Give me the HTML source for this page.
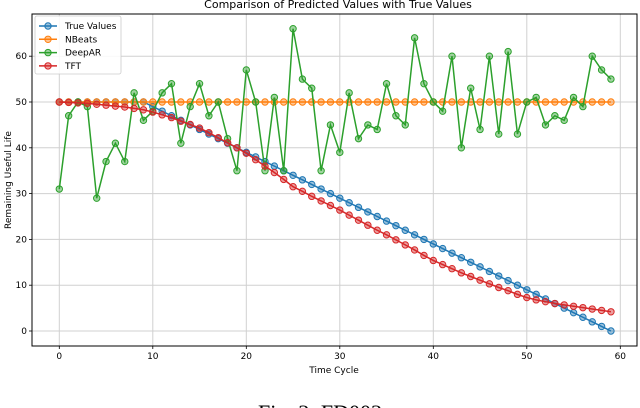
<!DOCTYPE html>
<html><head><meta charset="utf-8"><style>
html,body{margin:0;padding:0;background:#fff;width:640px;height:408px;overflow:hidden}
svg{display:block;font-family:"DejaVu Sans","Liberation Sans",sans-serif}
</style></head><body>
<svg id="chart" width="640" height="408" viewBox="0 0 640 408">
<text x="338" y="8" text-anchor="middle" font-size="11" fill="#000">Comparison of Predicted Values with True Values</text>
<g id="grid"></g>
<g id="axes"></g>
<g id="series"></g>
<text x="334" y="373" text-anchor="middle" font-size="9">Time Cycle</text>
<text transform="translate(11,180) rotate(-90)" text-anchor="middle" font-size="9">Remaining Useful Life</text>
<g id="legend"></g>
<text x="320" y="420" text-anchor="middle" font-size="22" font-family="Liberation Serif,serif">Fig. 3: FD003</text>
</svg>
<script>
const xTicks=[0,10,20,30,40,50,60];
const yTicks=[0,10,20,30,40,50,60];
const trueVals=[50,50,50,50,50,50,50,50,50,50,49,48,47,46,45,44,43,42,41,40,39,38,37,36,35,34,33,32,31,30,29,28,27,26,25,24,23,22,21,20,19,18,17,16,15,14,13,12,11,10,9,8,7,6,5,4,3,2,1,0];
const nbeatsVals=[50,50,50,50,50,50,50,50,50,50,50,50,50,50,50,50,50,50,50,50,50,50,50,50,50,50,50,50,50,50,50,50,50,50,50,50,50,50,50,50,50,50,50,50,50,50,50,50,50,50,50,50,50,50,50,50,50,50,50,50];
const deeparVals=[31,47,50,49,29,37,41,37,52,46,48,52,54,41,49,54,47,50,42,35,57,50,35,51,35,66,55,53,35,45,39,52,42,45,44,54,47,45,64,54,50,48,60,40,53,44,60,43,61,43,50,51,45,47,46,51,49,60,57,55];
const tftVals=[50,49.9,49.8,49.7,49.5,49.3,49.1,48.9,48.6,48.3,47.8,47.2,46.6,45.8,45.1,44.3,43.3,42.2,41.1,40.0,38.8,37.4,36.0,34.6,33.1,31.5,30.5,29.4,28.4,27.4,26.4,25.3,24.2,23.1,22.0,21.0,19.9,18.8,17.7,16.5,15.4,14.5,13.6,12.7,11.9,11.1,10.3,9.5,8.8,8.0,7.3,6.8,6.4,6.0,5.7,5.4,5.1,4.8,4.5,4.2];
const seriesNames=["True Values","NBeats","DeepAR","TFT"];
const seriesColors=["#1f77b4","#ff7f0e","#2ca02c","#d62728"];
const NS="http://www.w3.org/2000/svg";
const L=32,R=637,T=14,B=346;
const xs=v=>59.3+v*9.35;
const ys=v=>331-v*4.58;
function mk(tag,attrs,parent){const e=document.createElementNS(NS,tag);for(const k in attrs)e.setAttribute(k,attrs[k]);parent.appendChild(e);return e;}
const grid=document.getElementById('grid'),axes=document.getElementById('axes'),ser=document.getElementById('series'),leg=document.getElementById('legend');
xTicks.forEach(t=>{
  const g=mk('line',{x1:xs(t),x2:xs(t),y1:T,y2:B,stroke:'#d0d0d0','stroke-width':1},grid);
  
  
  mk('line',{x1:xs(t),x2:xs(t),y1:B,y2:B+3,stroke:'#000','stroke-width':0.8},axes);
  const tx=mk('text',{x:xs(t),y:B+13,'text-anchor':'middle','font-size':9},axes);tx.textContent=t;
  
  
});
yTicks.forEach(t=>{
  const g=mk('line',{x1:L,x2:R,y1:ys(t),y2:ys(t),stroke:'#d0d0d0','stroke-width':1},grid);
  
  
  mk('line',{x1:L-3,x2:L,y1:ys(t),y2:ys(t),stroke:'#000','stroke-width':0.8},axes);
  const tx=mk('text',{x:L-5,y:ys(t)+3,'text-anchor':'end','font-size':9},axes);tx.textContent=t;
  
  
});
const fr=mk('rect',{x:L,y:T,width:R-L,height:B-T,fill:'none',stroke:'#000','stroke-width':1},axes);


[trueVals,nbeatsVals,deeparVals,tftVals].forEach((vals,si)=>{
  const c=seriesColors[si];
  const g=mk('g',{},ser);
  
  
  const pl=mk('polyline',{points:vals.map((v,i)=>xs(i)+','+ys(v)).join(' '),fill:'none',stroke:c,'stroke-width':1.5},g);
  
  
  vals.forEach((v,i)=>{
    const m=mk('circle',{cx:xs(i),cy:ys(v),r:3.2,fill:c,'fill-opacity':0.45,stroke:c,'stroke-width':1},g);
    
    
  });
});
mk('rect',{x:35,y:16,width:86,height:58,fill:'#fff','fill-opacity':0.85,stroke:'#ccc','stroke-width':0.8,rx:2},leg);
seriesNames.forEach((n,i)=>{
  const y=26+i*13.3;
  const e=mk('g',{},leg);
  
  
  mk('line',{x1:39,x2:57,y1:y,y2:y,stroke:seriesColors[i],'stroke-width':1.5},e);
  mk('circle',{cx:48,cy:y,r:3.2,fill:seriesColors[i],'fill-opacity':0.45,stroke:seriesColors[i]},e);
  const t=mk('text',{x:65,y:y+3,'font-size':9},e);t.textContent=n;
});
</script>
</body></html>
